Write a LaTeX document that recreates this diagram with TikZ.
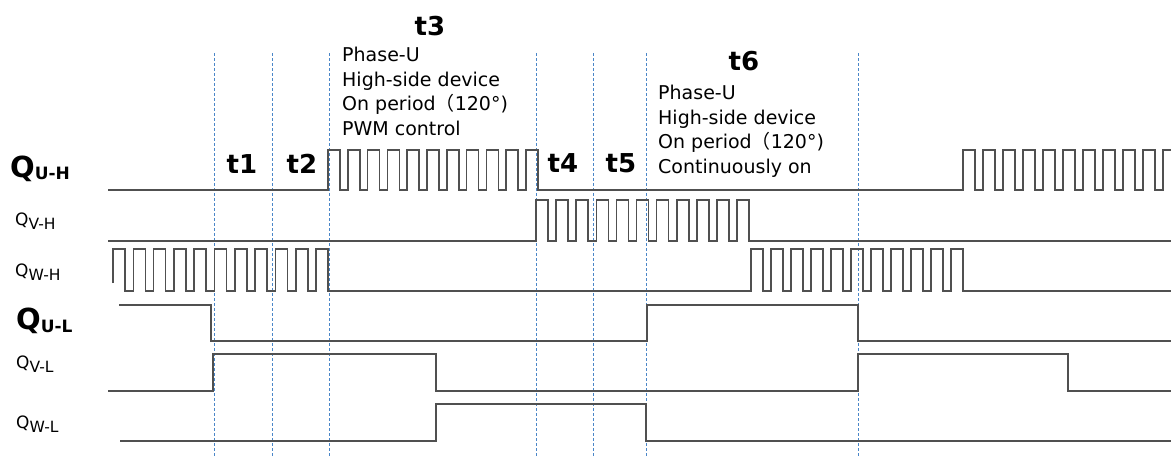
\documentclass[tikz,border=0pt]{standalone}
\usepackage{fontspec}
\setmainfont{DejaVu Sans}
\newfontfamily\jpfont{Noto Sans CJK JP}
\definecolor{sigc}{HTML}{505050}
\definecolor{dashc}{HTML}{4A86C8}
\begin{document}
\begin{tikzpicture}[x=1pt,y=-1pt,
  sig/.style={draw=sigc,line width=1.6pt,line join=miter},
  guide/.style={draw=dashc,line width=0.9pt,dash pattern=on 3pt off 2pt},
  tlab/.style={anchor=base,inner sep=0pt,font=\fontsize{26}{26}\selectfont\bfseries},
  blk/.style={anchor=base west,inner sep=0pt,align=left,font=\fontsize{19}{24.5}\selectfont},
  qbig/.style={anchor=base west,inner sep=0pt,font=\fontsize{29}{29}\selectfont\bfseries},
  qsmall/.style={anchor=base west,inner sep=0pt,font=\fontsize{17}{17}\selectfont}]
\useasboundingbox (0,0) rectangle (1171,458);

% guide lines
\foreach \gx in {214,272,329,536,593,646,858}
  \draw[guide] (\gx,53) -- (\gx,458);

% Q U-H
\draw[sig] (108,190) -- (328,190)
  \foreach \k in {0,...,10} { -- ({328+\k*19.8},150) -- ({340+\k*19.8},150) -- ({340+\k*19.8},190) -- ({328+(\k+1)*19.8},190) }
  -- (963,190)
  \foreach \k in {0,...,9} { -- ({963+\k*20},150) -- ({975+\k*20},150) -- ({975+\k*20},190) -- ({963+(\k+1)*20},190) }
  -- (1163,150) -- (1171,150);

% Q V-H
\draw[sig] (108,241) -- (536,241)
  \foreach \k in {0,...,10} { -- ({536+\k*20.1},200) -- ({548+\k*20.1},200) -- ({548+\k*20.1},241) -- ({536+(\k+1)*20.1},241) }
  -- (1171,241);

% Q W-H
\draw[sig] (113,283)
  \foreach \k in {0,...,10} { -- ({113+\k*20.3},249) -- ({125+\k*20.3},249) -- ({125+\k*20.3},291) -- ({113+(\k+1)*20.3},291) }
  -- (751,291)
  \foreach \k in {0,...,10} { -- ({751+\k*20},249) -- ({763+\k*20},249) -- ({763+\k*20},291) -- ({751+(\k+1)*20},291) }
  -- (1171,291);

% Q U-L
\draw[sig] (119,305) -- (211,305) -- (211,341) -- (647,341) -- (647,305) -- (858,305) -- (858,341) -- (1171,341);
% Q V-L
\draw[sig] (108,391) -- (213,391) -- (213,354) -- (436,354) -- (436,391) -- (858,391) -- (858,354) -- (1068,354) -- (1068,391) -- (1171,391);
% Q W-L
\draw[sig] (120,441) -- (436,441) -- (436,404) -- (646,404) -- (646,441) -- (1171,441);

% signal labels
\node[qbig] (quh) at (10,177) {Q\raisebox{-2pt}{\fontsize{17}{17}\selectfont U-H}};
\node[qsmall] (qvh) at (15,225) {Q\raisebox{-4pt}{\fontsize{15.5}{15.5}\selectfont V-H}};
\node[qsmall] (qwh) at (15,276) {Q\raisebox{-4pt}{\fontsize{15.5}{15.5}\selectfont W-H}};
\node[qbig] (qul) at (16,329) {Q\raisebox{-3pt}{\fontsize{17}{17}\selectfont U-L}};
\node[qsmall] (qvl) at (16,368) {Q\raisebox{-4pt}{\fontsize{15.5}{15.5}\selectfont V-L}};
\node[qsmall] (qwl) at (16,428) {Q\raisebox{-4pt}{\fontsize{15.5}{15.5}\selectfont W-L}};

% interval labels
\node[tlab] (t1) at (242,173) {t1};
\node[tlab] (t2) at (302,173) {t2};
\node[tlab] (t3) at (430,35) {t3};
\node[tlab] (t4) at (563,172) {t4};
\node[tlab] (t5) at (621,172) {t5};
\node[tlab] (t6) at (744,70) {t6};

% descriptions (base = last line)
\node[blk] (d1) at (342,135.2) {Phase-U\\High-side device\\On period{\jpfont （}120°)\\PWM control};
\node[blk] (d2) at (658,173) {Phase-U\\High-side device\\On period{\jpfont （}120°)\\Continuously on};
\end{tikzpicture}
\end{document}
